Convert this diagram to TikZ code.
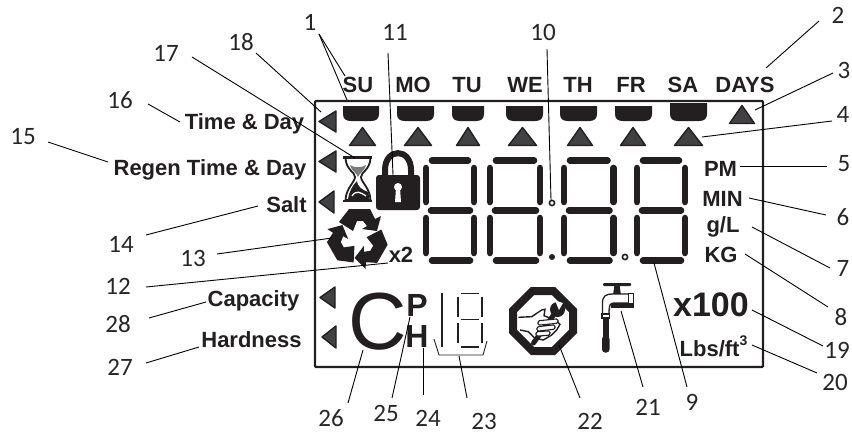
\documentclass[tikz,border=0pt]{standalone}
\usepackage{fontspec}
\setmainfont{Liberation Sans}
\newfontfamily\numfont{Carlito}
\definecolor{lcddark}{HTML}{231F20}
\definecolor{lcdgray}{HTML}{414042}
\tikzset{
  lcdtext/.style={inner sep=0pt, anchor=base, text=lcddark, font=\bfseries\fontsize{22}{24}\selectfont},
  bigtext/.style={lcdtext, font=\bfseries\fontsize{34}{36}\selectfont},
  chtext/.style={lcdtext, font=\bfseries\fontsize{32}{34}\selectfont},
  numlabel/.style={inner sep=0pt, text=black!85, font=\numfont\fontsize{25}{27}\selectfont},
  leader/.style={black, line width=0.9pt},
  flag/.style={fill=lcdgray, draw=lcddark, line width=1.4pt, line join=round},
  seg/.style={lcddark, line width=6.6pt, line cap=round},
  thinseg/.style={lcddark, line width=1.8pt}
}

\begin{document}
\begin{tikzpicture}[x=1pt,y=-1pt]
  \useasboundingbox (0,0) rectangle (852,434);

  % Display frame
  \draw[lcddark, line width=2.4pt, rounded corners=1pt] (315,101) rectangle (763,367);

  % Day names
  \foreach \lab/\x in {SU/358,MO/413,TU/467,WE/525,TH/578,FR/631,SA/683,DAYS/745}
    \node[lcdtext] (day\lab) at (\x,92) {\lab};

  % Day bars
  \foreach \xa/\xb/\ytop in {343/379/106,397/434/106,452/484/106,506/543/106,560/597/106,615/652/106,670/707/103}
    \fill[lcddark] (\xa,\ytop) -- (\xb,\ytop) -- (\xb,114) .. controls (\xb,119) and (\xb-3,121) .. (\xb-8,121)
      -- (\xa+8,121) .. controls (\xa+3,121) and (\xa,119) .. (\xa,114) -- cycle;

  % Day flags
  \foreach \xa/\xb in {349.5/375.5,404.5/431.5,456.5/479.5,508.5/536.5,567.5/592.5,620.5/645.5,674.5/702.5}
    \draw[flag] (\xa,145.5) -- (\xb,145.5) -- ({(\xa+\xb)/2},127.5) -- cycle;
  \draw[flag] (729.5,123.5) -- (754.5,123.5) -- (742,105.5) -- cycle;

  % Side flags
  \foreach \xa/\xb/\ya/\yb in {319/336/111/132,319/336/151/172,319/334/191/213,320/335/287/308,322/336/326/348}
    \draw[flag] (\xa,{(\ya+\yb)/2}) -- (\xb,\ya) -- (\xb,\yb) -- cycle;

  % Side texts
  \node[lcdtext] (timeday) at (244.5,129.5) {Time \& Day};
  \node[lcdtext] (regen) at (210,175) {Regen Time \& Day};
  \node[lcdtext] (salt) at (286.5,212.5) {Salt};
  \node[lcdtext] (capacity) at (253.5,306) {Capacity};
  \node[lcdtext] (hardness) at (251.5,347.5) {Hardness};

  % Right texts
  \node[lcdtext] (pm) at (720.5,176.7) {PM};
  \node[lcdtext] (min) at (722.5,206) {MIN};
  \node[lcdtext] (gl) at (723,232.7) {g/L};
  \node[lcdtext] (kg) at (721,262.3) {KG};
  \node[bigtext] (xhundred) at (711,316.7) {x100};
  \node[lcdtext] (lbs) at (713.5,356) {Lbs/ft\raisebox{11pt}{\bfseries\fontsize{14}{15}\selectfont 3}};
  \node[lcdtext] (xtwo) at (401,262.7) {x2};

  % Hourglass
  \fill[lcddark] (343,156) rectangle (372,158.5);
  \fill[lcddark] (343,199.5) rectangle (372,202);
  \draw[lcddark, line width=1.8pt, fill=white] (345.5,158) .. controls (346,170) and (355,172) .. (355,177)
    .. controls (355,182) and (346,188) .. (345.5,200) -- (370.5,200)
    .. controls (370,188) and (361,182) .. (361,177) .. controls (361,172) and (370,170) .. (370.5,158) -- cycle;
  \fill[lcdgray!70] (350,165) .. controls (354,168) and (362,168) .. (366,165) .. controls (364,172) and (359,173) .. (358,177)
    .. controls (357,173) and (352,172) .. (350,165) -- cycle;
  \fill[lcddark] (348,199) .. controls (349,192) and (352,186) .. (357,181) .. controls (357,186) and (362,190) .. (368,192)
    .. controls (369,194) and (369,197) .. (369,199) -- cycle;
  \draw[white, line width=1.3pt] (352,196) .. controls (356,190) and (360,192) .. (366,196);

  % Lock
  \draw[lcddark, line width=6pt] (385,178) -- (385,170) .. controls (385,147.5) and (411,147.5) .. (411,170) -- (411,178);
  \fill[lcddark, rounded corners=3pt] (376,175) rectangle (420,210);
  \fill[white] (398,187) circle (4);
  \fill[white] (396,188) -- (400,188) -- (401,202) -- (395,202) -- cycle;

  % Recycle
  \foreach \ang in {0,120,240}
    \fill[lcddark, shift={(358,238)}, rotate=\ang] (-19,-16) -- (-9,-29) -- (12,-29) -- (17,-19) -- (23,-22) -- (19,-7)
      -- (4,-9) -- (9,-12) -- (5,-17) -- (-1,-17) -- (-5,-7) -- cycle;

  % Big digits
  \foreach \xl/\xr in {426/474,490/540,564/613.5,637/685} {
    \draw[seg] (\xl+6,160.5) -- (\xr-6,160.5);
    \draw[seg] (\xl+5,210.5) -- (\xr-4,210.5);
    \draw[seg] (\xl+6,260.5) -- (\xr-4,260.5);
    \foreach \xs in {\xl,\xr} {
      \draw[seg] (\xs,168) -- (\xs,202);
      \draw[seg] (\xs,218) -- (\xs,253);
    }
  }

  % Dots
  \draw[lcddark, line width=1.6pt, fill=white] (552,203) circle (2.6);
  \fill[lcddark] (552,257) circle (3);
  \draw[lcddark, line width=1.6pt, fill=white] (625,257) circle (2.6);

  % Big C, P and H
  \node[inner sep=0pt, anchor=base, text=lcddark, font=\fontsize{81}{83}\selectfont] (bigc) at (377.5,349) {C};
  \node[chtext] (bigp) at (417,316.7) {P};
  \node[chtext] (bigh) at (417,347.3) {H};

  % Small digit
  \draw[thinseg, line width=2.2pt] (442,293) -- (442,347);
  \foreach \ya/\yb in {297/317,323/343} {
    \draw[thinseg] (458,\ya) -- (458,\yb);
    \draw[thinseg] (482,\ya) -- (482,\yb);
  }
  \foreach \y in {293.5,319.5,347} \draw[thinseg] (461,\y) -- (479,\y);
  \draw[lcddark, line width=0.9pt] (434,339) -- (439,355) -- (483,355) -- (487,341);

  % Service sign
  \draw[lcddark, line width=8pt, line join=miter] (532.5,291) -- (553.5,291) -- (573,310.5) -- (573,331.5) -- (553.5,351) -- (532.5,351) -- (513,331.5) -- (513,310.5) -- cycle;
  \draw[lcddark, line width=1.4pt, fill=white] (518.3,317.3) -- (531.7,316.7) -- (541.7,310) -- (545,309.3) -- (544,315.7) -- (555,320)
    -- (560,324.3) -- (556.7,330) -- (551.7,335) -- (543.3,340) -- (535,338.3) -- (528.3,331.7) -- (520,330);
  % Wrench and fingers
  \draw[lcddark, line width=5pt, line cap=round] (533.5,343) -- (555,313);
  \fill[lcddark] (557.5,309.5) circle (7.5);
  \fill[white] (555,300.5) -- (563,303) -- (559,310) -- cycle;
  \foreach \xa/\ya/\xb/\yb in {538/323/558/321,537/329/555/327,536/334/550/333}
    \draw[lcddark, fill=white, line width=1.1pt, rounded corners=1.5pt] (\xa,\ya-2.2) -- (\xb,\yb-2.2) -- (\xb,\yb+2.2) -- (\xa,\ya+2.2) -- cycle;

  % Faucet
  \fill[lcddark, rounded corners=1pt] (603,283) rectangle (631,286);
  \fill[lcddark] (614.5,285) -- (619.5,285) -- (621,295) -- (613,295) -- cycle;
  \draw[lcddark, line width=1.3pt, fill=white] (602.5,314) -- (602.5,303) .. controls (602.5,296) and (606,294) .. (612,294)
    -- (629,294) -- (629,303) -- (614,303) .. controls (610,303) and (609,305) .. (609,314) -- cycle;
  \fill[lcddark] (611,303) rectangle (634,307.5);
  \draw[lcddark, line width=1.3pt, fill=white] (628.5,293.5) rectangle (633.5,304);
  \draw[lcddark, line width=1.3pt, fill=white] (602,314) rectangle (609.5,318);
  \fill[lcddark] (602.5,318) rectangle (609,338);
  \fill[lcddark, rounded corners=3pt] (602,336) rectangle (609.5,352.5);

  % Numbers with their leader lines
  \foreach \num/\nx/\ny/\sx/\sy/\ex/\ey in {
      2/838/15/-19/6/766/68, 3/844/70/-11/3/755/110, 4/843/114/-11/7/702/137,
      5/844/164/-17/2/740/166, 6/843/217/-17/-2/749/198, 7/843/268/-13/0/752/227,
      8/841/317/-13/-10/745/254, 9/692/402/-5/-15/654/263, 10/543/32/4/17/551/200,
      11/395/32/-7/21/393/175, 12/118/286/28/1/388/263, 13/193/258/24/-4/332/238,
      14/121/244/25/-9/258/206, 15/23/137/25/5/108/162, 16/120/100/28/4/180/122,
      17/166/53/26/4/355/158, 18/241/42/15/11/321/112, 19/837/350/-14/-4/752/310,
      20/835/382/-18/-9/752/345, 21/648/407/-5/-20/621/311, 22/590/421/-10/-23/559/345,
      23/484/421/-17/-23/459/356, 24/428/418/-5/-23/423/348, 25/386/413/6/-15/410/317,
      26/331/418/17/-15/363/350, 27/120/367/26/-4/199/347, 28/118/324/31/-6/206/302} {
    \node[numlabel] (n\num) at (\nx,\ny) {\num};
    \coordinate (end\num) at (\ex,\ey);
    \draw[leader] ([shift={(\sx,\sy)}]n\num.center) -- (end\num);
  }

  % Number 1 has two lines
  \node[numlabel] (n1) at (310,22) {1};
  \coordinate (endsu) at (345,76);
  \coordinate (endbar) at (347,100);
  \draw[leader] ([shift={(9,12)}]n1.center) -- (endsu);
  \draw[leader] ([shift={(9,12)}]n1.center) -- (endbar);
\end{tikzpicture}
\end{document}
